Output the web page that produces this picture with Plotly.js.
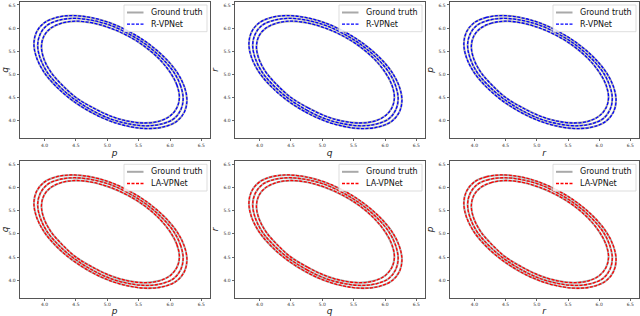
<!DOCTYPE html>
<html>
<head>
<meta charset="utf-8">
<script src="https://cdn.plot.ly/plotly-3.0.1.min.js"></script>
<style>html,body{margin:0;padding:0;background:#fff;}#chart{width:640px;height:316px;}</style>
</head>
<body>
<div id="chart"></div>
<script>
// Three orbits (outer, middle, inner)
const pOuter = [6.27, 6.23, 6.11, 5.91, 5.66, 5.37, 5.05, 4.73, 4.44, 4.19, 3.99, 3.87, 3.83, 3.87, 3.99, 4.19, 4.44, 4.73, 5.05, 5.37, 5.66, 5.91, 6.11, 6.23];
const qOuter = [4.44, 4.73, 5.05, 5.37, 5.66, 5.91, 6.11, 6.23, 6.27, 6.23, 6.11, 5.91, 5.66, 5.37, 5.05, 4.73, 4.44, 4.19, 3.99, 3.87, 3.83, 3.87, 3.99, 4.19];
const rOuter = [4.44, 4.19, 3.99, 3.87, 3.83, 3.87, 3.99, 4.19, 4.44, 4.73, 5.05, 5.37, 5.66, 5.91, 6.11, 6.23, 6.27, 6.23, 6.11, 5.91, 5.66, 5.37, 5.05, 4.73];

const pMiddle = [6.21, 6.17, 6.06, 5.87, 5.63, 5.35, 5.05, 4.75, 4.47, 4.23, 4.04, 3.93, 3.89, 3.93, 4.04, 4.23, 4.47, 4.75, 5.05, 5.35, 5.63, 5.87, 6.06, 6.17];
const qMiddle = [4.47, 4.75, 5.05, 5.35, 5.63, 5.87, 6.06, 6.17, 6.21, 6.17, 6.06, 5.87, 5.63, 5.35, 5.05, 4.75, 4.47, 4.23, 4.04, 3.93, 3.89, 3.93, 4.04, 4.23];
const rMiddle = [4.47, 4.23, 4.04, 3.93, 3.89, 3.93, 4.04, 4.23, 4.47, 4.75, 5.05, 5.35, 5.63, 5.87, 6.06, 6.17, 6.21, 6.17, 6.06, 5.87, 5.63, 5.35, 5.05, 4.75];

const pInner = [6.15, 6.11, 6.00, 5.83, 5.60, 5.33, 5.05, 4.77, 4.50, 4.28, 4.10, 3.99, 3.95, 3.99, 4.10, 4.28, 4.50, 4.77, 5.05, 5.33, 5.60, 5.83, 6.00, 6.11];
const qInner = [4.50, 4.77, 5.05, 5.33, 5.60, 5.83, 6.00, 6.11, 6.15, 6.11, 6.00, 5.83, 5.60, 5.33, 5.05, 4.77, 4.50, 4.28, 4.10, 3.99, 3.95, 3.99, 4.10, 4.28];
const rInner = [4.50, 4.28, 4.10, 3.99, 3.95, 3.99, 4.10, 4.28, 4.50, 4.77, 5.05, 5.33, 5.60, 5.83, 6.00, 6.11, 6.15, 6.11, 6.00, 5.83, 5.60, 5.33, 5.05, 4.77];

const tickVals = [4.0, 4.5, 5.0, 5.5, 6.0, 6.5];
const tickText = ["4.0", "4.5", "5.0", "5.5", "6.0", "6.5"];
const modelNames = ["R-VPNet", "LA-VPNet"];
const modelColors = ["#0000ff", "#ff0000"];
const gtName = "Ground truth";

const orbits = [
  {p: pOuter, q: qOuter, r: rOuter},
  {p: pMiddle, q: qMiddle, r: rMiddle},
  {p: pInner, q: qInner, r: rInner}
];
// columns: (p,q), (q,r), (r,p)
const pairs = [["p", "q"], ["q", "r"], ["r", "p"]];

const close = a => a.concat([a[0]]);

const W = 640, H = 316;
const colPx = [[19.5, 209.5], [234.5, 424.5], [449.5, 638.5]];
const rowPx = [[1.7, 138.3], [161, 298]];
const colDomains = colPx.map(c => [c[0]/W, c[1]/W]);
const rowDomains = rowPx.map(r => [1 - r[1]/H, 1 - r[0]/H]);
const px = v => v / W, py = v => 1 - v / H;

const GT_COLOR = "#a9a9a9";
const DASH = "3px,1.5px";

const traces = [];
const shapes = [];
const annotations = [];
const layout = {
  width: W, height: H,
  margin: {l: 0, r: 0, t: 0, b: 0},
  paper_bgcolor: "#ffffff", plot_bgcolor: "#ffffff",
  font: {family: "DejaVu Sans", color: "#222"},
  showlegend: false
};

let idx = 0;
for (let row = 0; row < 2; row++) {
  for (let col = 0; col < 3; col++) {
    idx++;
    const sfx = idx === 1 ? "" : String(idx);
    const xa = "x" + sfx, ya = "y" + sfx;
    const [kx, ky] = pairs[col];
    orbits.forEach(o => {
      traces.push({
        x: close(o[kx]), y: close(o[ky]), type: "scatter", mode: "lines",
        xaxis: xa, yaxis: ya, name: gtName,
        line: {color: GT_COLOR, width: 2, shape: "spline", smoothing: 1}
      });
    });
    orbits.forEach(o => {
      traces.push({
        x: close(o[kx]), y: close(o[ky]), type: "scatter", mode: "lines",
        xaxis: xa, yaxis: ya, name: modelNames[row],
        line: {color: modelColors[row], width: 1.3, dash: DASH, shape: "spline", smoothing: 1}
      });
    });
    const axCommon = {
      tickvals: tickVals, ticktext: tickText,
      ticks: "outside", ticklen: 2, tickwidth: 0.8, tickcolor: "#444",
      tickfont: {size: 4.5, color: "#333"},
      showline: true, mirror: true, linecolor: "#555", linewidth: 1,
      showgrid: false, zeroline: false, automargin: false
    };
    layout["xaxis" + sfx] = Object.assign({}, axCommon, {
      range: [3.60, 6.63],
      domain: colDomains[col], anchor: ya,
      title: {text: "<i>" + kx + "</i>", font: {size: 9, color: "#222"}, standoff: 2}
    });
    layout["yaxis" + sfx] = Object.assign({}, axCommon, {
      range: [3.62, 6.57],
      domain: rowDomains[row], anchor: xa,
      title: {text: "<i>" + ky + "</i>", font: {size: 9, color: "#222"}, standoff: 3}
    });

    // legend box (upper right of each panel)
    const R = colPx[col][1], T = rowPx[row][0];
    shapes.push({type: "rect", xref: "paper", yref: "paper", layer: "above",
      x0: px(R - 85.5), x1: px(R - 2.5), y0: py(T + 3.3), y1: py(T + 30),
      fillcolor: "rgba(255,255,255,0.85)", line: {color: "#d4d4d4", width: 0.8}});
    const rowsY = [T + 10.8, T + 22.5];
    const items = [
      {name: gtName, color: GT_COLOR, width: 2, dash: "solid"},
      {name: modelNames[row], color: modelColors[row], width: 1.3, dash: DASH}
    ];
    items.forEach((it, k) => {
      shapes.push({type: "line", xref: "paper", yref: "paper", layer: "above",
        x0: px(R - 82.5), x1: px(R - 66), y0: py(rowsY[k]), y1: py(rowsY[k]),
        line: {color: it.color, width: it.width, dash: it.dash}});
      annotations.push({xref: "paper", yref: "paper", x: px(R - 60.5), y: py(rowsY[k]),
        xanchor: "left", yanchor: "middle", showarrow: false, text: it.name,
        font: {size: 8, color: "#111", family: "DejaVu Sans"}});
    });
  }
}
layout.shapes = shapes;
layout.annotations = annotations;

Plotly.newPlot("chart", traces, layout, {staticPlot: true, displayModeBar: false});
</script>
</body>
</html>
